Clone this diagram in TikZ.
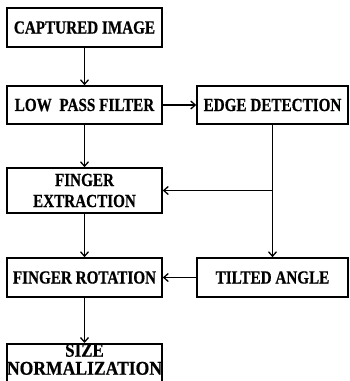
\documentclass[tikz,border=0pt]{standalone}
\usepackage{fontspec}
\setmainfont{Liberation Serif}
\newfontfamily\lab{Liberation Serif}[FakeStretch=0.82,FakeBold=0.6]
\usetikzlibrary{arrows.meta}
\begin{document}
\begin{tikzpicture}[x=1pt,y=-1pt,
  box/.style={draw, line width=1.6pt, inner sep=0pt, minimum width=155pt,
    align=center, font=\lab\bfseries\fontsize{18.5}{21}\selectfont},
  conn/.style={line width=1.4pt, -{Straight Barb[length=4.5pt,width=8pt,line width=1.3pt]}}]
\useasboundingbox (0,0) rectangle (350,381);
\clip (0,0) rectangle (350,381);
\node[box, minimum height=39pt] (cap) at (84.5,27.5) {CAPTURED IMAGE};
\node[box, minimum height=38pt] (lpf) at (84.5,105) {LOW\ \ PASS FILTER};
\node[box, minimum height=38pt, minimum width=151pt] (edge) at (272.5,105) {EDGE DETECTION};
\node[box, minimum height=45pt] (fex) at (84.5,190.5) {FINGER\\EXTRACTION};
\node[box, minimum height=39pt] (frot) at (84.5,277.5) {FINGER ROTATION};
\node[box, minimum height=39pt, minimum width=151pt] (tilt) at (272.5,277.5) {TILTED ANGLE};
\node[box, minimum height=52pt, anchor=north, font=\lab\bfseries\fontsize{19.5}{18}\selectfont] (size) at (84.5,343) {\scalebox{1.06}[1]{SIZE}\\\scalebox{1.1}[1]{NORMALIZATION}\\[4pt]};
\coordinate (j) at (edge.south |- fex.east);
\draw[conn] (cap) -- (lpf);
\draw[conn] (lpf) -- (edge);
\draw[conn] (lpf) -- (fex);
\draw[conn] (edge.south) -- (tilt.north);
\draw[conn] (j) -- (fex.east);
\draw[conn] (fex) -- (frot);
\draw[conn] (tilt) -- (frot);
\draw[conn] (frot) -- (size);
\end{tikzpicture}
\end{document}
